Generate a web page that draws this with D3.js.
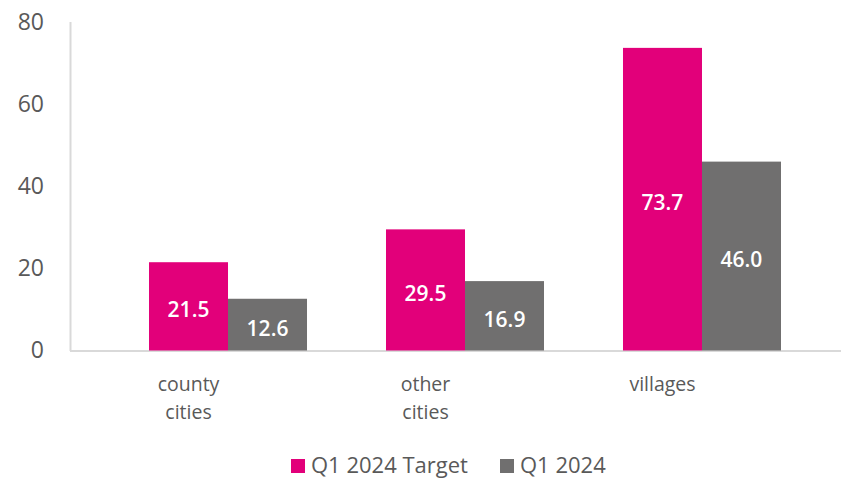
<!DOCTYPE html>
<html><head><meta charset="utf-8">
<script src="https://cdn.jsdelivr.net/npm/d3@7"></script>
<style>body{margin:0;background:#fff}svg{display:block}text{font-family:"Open Sans",sans-serif}</style>
</head><body><svg id="c" width="841" height="479"></svg>
<script>
const categories = [["county","cities"],["other","cities"],["villages"]];
const seriesNames = ["Q1 2024 Target","Q1 2024"];
const targetValues = [21.5, 29.5, 73.7];
const actualValues = [12.6, 16.9, 46.0];
const yTicks = [0, 20, 40, 60, 80];
const colors = ["#E2007A", "#706F6F"];

const svg = d3.select("#c");
const y = d3.scaleLinear().domain([0, 80]).range([350.5, 22]);
const x0 = d3.scaleBand().domain(d3.range(categories.length)).range([109.5, 820.5]).paddingInner(0.3333).paddingOuter(0.1667);
const x1 = d3.scaleBand().domain([0,1]).range([0, x0.bandwidth()]);

// axes lines
svg.append("line").attr("x1",70.5).attr("x2",70.5).attr("y1",22).attr("y2",351).attr("stroke","#d9d9d9").attr("stroke-width",2);
svg.append("line").attr("x1",70).attr("x2",841).attr("y1",351).attr("y2",351).attr("stroke","#d9d9d9").attr("stroke-width",2);

// y tick labels
const yAxis = d3.axisLeft(y).tickValues(yTicks).tickSize(0).tickPadding(0);
const ga = svg.append("g").attr("transform","translate(44,0)").call(yAxis);
ga.select(".domain").remove();
ga.selectAll("text").attr("font-size",23).attr("fill","#595959").style("font-family","'Open Sans',sans-serif");

const data = categories.map((c,i)=>[targetValues[i], actualValues[i]]);
const groups = svg.selectAll("g.cat").data(data).join("g").attr("class","cat")
  .attr("transform",(d,i)=>`translate(${x0(i)},0)`);
groups.selectAll("rect").data(d=>d).join("rect")
  .attr("x",(d,j)=>x1(j)).attr("width",x1.bandwidth())
  .attr("y",d=>y(d)).attr("height",d=>y(0)-y(d))
  .attr("fill",(d,j)=>colors[j]);
groups.selectAll("text.val").data(d=>d).join("text").attr("class","val")
  .attr("x",(d,j)=>x1(j)+x1.bandwidth()/2)
  .attr("y",d=>(y(d)+y(0))/2+3)
  .attr("text-anchor","middle").attr("dominant-baseline","central")
  .attr("font-size",21).attr("font-weight",600).attr("fill","#fff")
  .text(d=>d.toFixed(1));

// category labels
categories.forEach((lines,i)=>{
  const cx = x0(i)+x1(0)+x1.bandwidth()/2;
  lines.forEach((t,k)=>{
    svg.append("text").attr("x",cx).attr("y",383+k*28).attr("text-anchor","middle")
      .attr("dominant-baseline","central").attr("font-size",19.5).attr("fill","#595959").text(t);
  });
});

// legend
const legend = [{x:291, name:seriesNames[0], c:colors[0]},{x:500, name:seriesNames[1], c:colors[1]}];
legend.forEach(l=>{
  svg.append("rect").attr("x",l.x).attr("y",459).attr("width",14).attr("height",14).attr("fill",l.c);
  svg.append("text").attr("x",l.x+20).attr("y",473).attr("dominant-baseline","alphabetic")
    .attr("font-size",22).attr("fill","#595959").text(l.name);
});
</script></body></html>
